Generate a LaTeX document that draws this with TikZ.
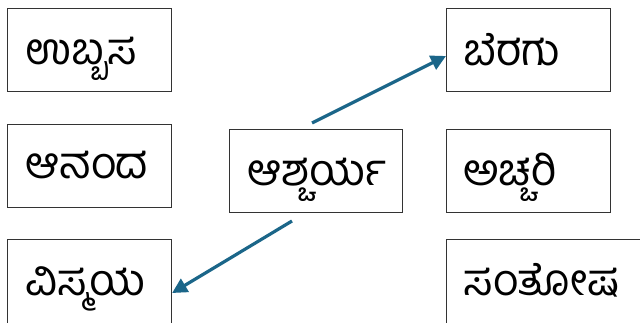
\documentclass[tikz,border=0pt]{standalone}
\usepackage{fontspec}
\usetikzlibrary{arrows.meta}
\newfontfamily\kn[Script=Kannada]{Hind Mysuru}
\definecolor{arrowblue}{HTML}{1B6689}
\definecolor{boxline}{HTML}{333333}
\begin{document}
\begin{tikzpicture}[x=1pt,y=-1pt,
  wbox/.style={draw=boxline,line width=1.1pt,minimum width=164pt,minimum height=83pt,
    anchor=north west,inner sep=0pt},
  wtext/.style={anchor=base west,inner sep=0pt,font=\kn\fontsize{44}{50}\selectfont},
  conn/.style={draw=arrowblue,line width=3.2pt,-{Triangle[length=15pt,width=15pt]}}]
\useasboundingbox (0,0) rectangle (640,322);
\node[wbox] (ubb) at (7,8) {};
\node[wbox] (ana) at (7,123.5) {};
\node[wbox,minimum height=100pt] (vis) at (7,239) {};
\node[wbox,minimum width=173pt] (asc) at (229,129) {};
\node[wbox] (ber) at (446,8) {};
\node[wbox] (ach) at (446,129) {};
\node[wbox,minimum width=210pt,minimum height=100pt] (san) at (446,239) {};
\node[wtext] (tubb) at (25,64) {ಉಬ್ಬಸ};
\node[wtext] (tana) at (25,178) {ಆನಂದ};
\node[wtext] (tvis) at (25,295) {ವಿಸ್ಮಯ};
\node[wtext] (tasc) at (247,185) {ಆಶ್ಚರ್ಯ};
\node[wtext] (tber) at (463,65) {ಬೆರಗು};
\node[wtext] (tach) at (463,185) {ಅಚ್ಚರಿ};
\node[wtext] (tsan) at (463,295) {ಸಂತೋಷ};
\coordinate (s1) at (312,123);
\coordinate (s2) at (292,221);
\draw[conn] (s1) -- (ber.west |- 0,56);
\draw[conn] (s2) -- (vis.east |- 0,293);
\end{tikzpicture}
\end{document}
